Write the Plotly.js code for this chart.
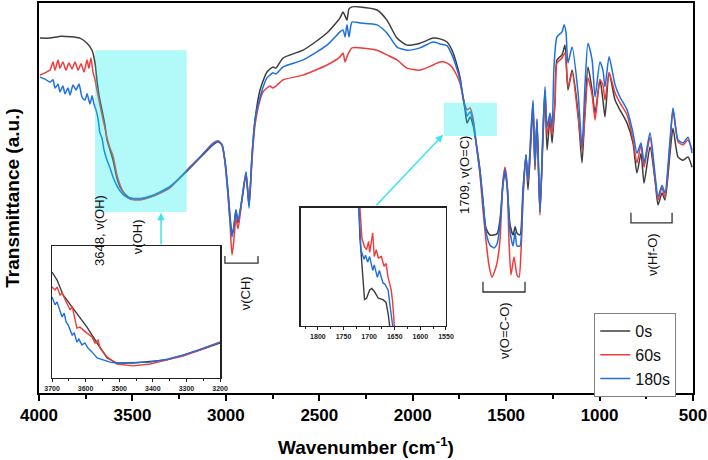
<!DOCTYPE html>
<html><head><meta charset="utf-8">
<script src="https://cdn.plot.ly/plotly-3.0.1.min.js"></script>
<style>html,body{margin:0;padding:0;background:#fff}#chart{width:708px;height:460px}</style>
</head><body><div id="chart"></div>
<script>
// ---- main spectra (wavenumber cm-1, transmittance a.u.) ----
const wn0 = [3995,3941,3880,3781,3743,3716,3700,3690,3679,3663,
3647,3636,3620,3604,3583,3566,3540,3513,3459,3390,
3299,3208,3138,3069,3042,3021,3005,2989,2978,2967,
2957,2946,2935,2914,2892,2876,2860,2844,2817,2780,
2748,2732,2694,2587,2459,2389,2373,2362,2352,2341,
2325,2282,2191,2138,2084,2031,1961,1891,1854,1816,
1790,1768,1747,1731,1720,1709,1693,1677,1656,1640,
1624,1608,1586,1549,1533,1517,1506,1495,1479,1463,
1452,1442,1426,1410,1394,1383,1367,1356,1346,1335,
1319,1303,1292,1281,1265,1254,1238,1228,1201,1185,
1169,1147,1115,1094,1078,1062,1040,1024,998,982,
971,949,917,891,853,821,800,778,762,730,
703,687,666,650,623,607,580,553,527,505];
const t0 = [91.0,91.0,91.5,91.0,89.7,87.9,84.6,80.3,76.4,72.6,
68.7,64.9,62.3,59.7,55.1,52.8,51.0,50.0,49.7,50.5,
52.8,56.9,60.3,63.6,64.4,63.6,59.7,52.1,45.6,40.8,
42.3,46.9,43.6,49.5,55.9,48.2,61.0,70.0,77.7,82.3,
83.6,83.3,85.9,87.9,92.3,96.2,97.7,96.7,95.6,98.5,
99.0,99.0,98.2,95.6,91.0,89.2,89.7,91.0,90.8,90.0,
87.9,84.9,81.0,75.9,72.6,69.2,70.8,68.7,62.8,57.2,
49.5,42.3,40.5,40.8,44.4,53.3,56.7,53.3,43.1,40.5,
42.6,41.0,40.5,52.1,61.0,52.1,64.9,73.1,57.2,69.5,
46.4,64.9,77.2,62.3,70.5,64.1,75.1,85.4,86.7,89.2,
77.7,82.8,71.8,59.0,72.6,83.6,77.7,71.8,80.3,75.1,
70.8,82.1,75.1,72.6,69.2,64.1,56.4,61.5,53.8,63.1,
54.6,48.2,51.3,49.5,61.5,67.9,60.5,59.7,60.5,57.9];

const wn60 = [3995,3968,3941,3925,3914,3898,3888,3872,3856,3840,
3823,3807,3791,3775,3759,3743,3733,3722,3711,3700,
3690,3679,3663,3647,3636,3620,3604,3583,3566,3540,
3513,3459,3390,3299,3208,3138,3069,3042,3021,3005,
2989,2978,2967,2957,2946,2935,2914,2892,2876,2860,
2844,2817,2801,2780,2764,2748,2732,2694,2587,2459,
2389,2373,2362,2352,2341,2325,2191,2138,2084,2031,
1961,1891,1854,1816,1790,1768,1747,1731,1720,1709,
1693,1677,1656,1640,1624,1608,1592,1576,1560,1549,
1533,1517,1506,1495,1485,1474,1458,1442,1431,1420,
1410,1394,1383,1367,1356,1346,1335,1319,1303,1292,
1281,1265,1254,1238,1228,1201,1185,1169,1147,1115,
1094,1078,1062,1040,1024,998,982,971,949,917,
891,853,821,800,778,762,730,703,687,666,
650,623,607,580,553,527,505];
const t60 = [81.5,82.1,82.8,84.9,82.8,85.4,83.3,84.9,82.8,84.6,
83.1,84.9,82.8,84.4,82.3,85.4,83.3,85.9,82.3,80.3,
77.7,75.1,71.3,67.9,65.4,62.8,60.8,55.9,53.3,50.8,
49.7,49.5,50.5,52.6,57.2,60.5,64.1,64.6,63.6,59.2,
50.8,43.8,35.4,39.2,44.9,42.1,49.5,56.4,48.2,59.7,
68.7,75.1,77.2,78.2,78.7,78.2,78.7,80.3,81.5,84.1,
86.2,87.2,84.9,86.2,87.4,88.5,87.9,86.7,85.4,83.3,
82.8,84.1,84.9,84.6,83.6,81.8,79.5,75.9,73.8,72.6,
73.1,70.5,62.3,55.9,46.9,39.2,32.8,29.7,31.5,33.3,
39.2,54.6,57.9,54.1,39.2,30.3,34.9,30.3,29.7,36.7,
49.5,61.0,54.1,66.2,74.4,57.9,70.0,45.6,66.7,77.7,
66.2,71.0,66.2,75.1,84.6,85.9,87.2,78.5,82.1,70.8,
62.3,71.3,80.8,76.4,70.0,80.3,79.0,75.1,82.1,76.9,
74.4,71.3,64.9,59.0,63.6,57.9,65.6,54.6,49.5,52.6,
50.3,63.6,72.6,64.4,63.6,64.9,62.3];

const wn180 = [3995,3968,3941,3925,3914,3898,3888,3872,3861,3845,
3834,3818,3802,3786,3770,3754,3743,3727,3716,3706,
3695,3684,3674,3663,3652,3636,3620,3604,3583,3566,
3540,3513,3459,3390,3299,3208,3138,3069,3042,3021,
3005,2989,2978,2967,2957,2946,2935,2914,2892,2876,
2860,2844,2817,2780,2764,2748,2732,2694,2587,2459,
2389,2373,2362,2352,2341,2325,2282,2191,2138,2084,
2031,1961,1891,1854,1816,1790,1768,1747,1731,1720,
1709,1693,1677,1656,1640,1624,1608,1586,1565,1549,
1533,1517,1506,1495,1479,1463,1452,1442,1426,1410,
1394,1383,1367,1356,1346,1335,1319,1303,1292,1281,
1265,1254,1244,1228,1201,1190,1180,1169,1147,1115,
1094,1078,1062,1040,1024,998,982,971,949,917,
891,853,821,800,778,762,730,703,687,666,
650,623,607,580,553,527,505];
const t180 = [81.0,80.5,79.7,80.3,78.2,79.2,77.2,78.7,76.7,78.2,
76.4,79.0,77.7,79.2,75.9,75.1,76.7,74.1,76.2,74.1,
72.6,70.3,66.7,65.4,62.3,59.7,57.7,55.4,53.1,51.8,
50.5,50.0,49.9,50.7,53.0,57.0,60.5,63.8,64.6,63.8,
59.5,51.5,44.5,40.0,43.0,46.9,44.1,49.8,56.7,47.4,
61.0,70.0,75.9,80.8,81.5,82.1,81.8,83.6,85.4,89.2,
92.6,93.1,91.3,94.4,91.3,95.1,94.9,94.4,92.3,88.7,
87.9,88.5,90.0,89.5,89.0,86.7,83.8,80.3,75.9,73.3,
71.0,72.1,69.5,62.3,56.7,49.0,41.3,37.9,37.2,38.2,
43.1,53.8,57.2,53.3,41.3,37.7,41.3,37.7,37.7,50.8,
61.0,54.6,67.4,75.1,58.7,70.3,46.2,67.4,78.5,68.2,
71.8,68.2,83.6,91.3,92.6,94.4,92.6,84.6,88.7,76.9,
63.1,79.0,89.7,85.4,75.9,84.9,82.8,78.5,86.2,79.0,
75.9,72.6,66.7,61.5,64.1,59.0,66.7,55.9,50.3,53.3,
51.3,64.9,73.1,64.9,64.1,65.6,61.5];

// ---- inset 1: OH region ----
const in1wn0 = [3700,3685,3667,3646,3626,3596,3566,3536,3507,3459,3408,3358,3310,3260,3200];
const in1t0 = [79.7,77.2,72.5,69.4,66.8,62.4,57.4,52.7,51.1,51.1,51.6,52.1,53.6,55.2,57.4];
const in1wn60 = [3700,3691,3685,3676,3670,3661,3652,3646,3640,3632,3626,3617,3608,3596,3581,3572,3563,3557,3536,3507,3459,3408,3358,3310,3260,3200];
const in1t60 = [75.0,74.1,75.0,72.5,73.1,70.9,68.7,67.8,69.0,65.3,62.1,62.4,61.5,60.5,59.3,57.4,58.3,55.8,53.0,50.8,50.2,50.8,52.1,53.3,55.2,57.7];
const in1wn180 = [3700,3691,3685,3676,3670,3664,3658,3652,3646,3640,3634,3626,3620,3611,3602,3593,3581,3566,3548,3527,3507,3459,3408,3358,3310,3260,3200];
const in1t180 = [71.9,69.4,70.3,67.8,65.6,66.8,64.0,63.1,61.5,59.9,60.5,57.7,58.6,56.8,57.4,55.8,54.6,52.7,52.1,51.4,51.1,51.3,51.4,52.3,53.6,55.4,57.7];

// ---- inset 2: C=O region ----
const in2wn0 = [1740,1720,1718,1714,1710,1709,1705,1699,1695,1690,1682,1673,1667,1663,1659,1650];
const in2t0 = [80,74.4,72.3,69.9,68.3,67.8,67.9,68.5,68.6,68.4,67.9,67.8,67.6,66.8,66.0,63];
const in2wn60 = [1740,1718,1714,1709,1705,1701,1699,1693,1690,1686,1682,1676,1671,1667,1663,1657,1654,1652,1640];
const in2t60 = [80,74.4,72.2,71.6,71.4,72.0,71.2,72.6,70.9,71.4,70.8,70.9,70.2,70.4,69.4,68.5,67.6,65.9,60];
const in2wn180 = [1740,1720,1716,1710,1707,1703,1699,1693,1690,1684,1680,1673,1669,1663,1659,1654,1645];
const in2t180 = [80,74.4,71.4,70.7,71.0,70.5,70.9,69.9,70.3,69.4,69.9,69.0,68.9,68.5,67.3,65.9,60];

const seriesNames = ['0s','60s','180s'];
const seriesColors = ['#3d3d3d','#ee3b3b','#1f6fe0'];
const xTickVals = [4000,3500,3000,2500,2000,1500,1000,500];
const in1Ticks = [3700,3600,3500,3400,3300,3200];
const in2Ticks = [1800,1750,1700,1650,1600,1550];

const FONT = 'Arial, "Liberation Sans", sans-serif';
const mains = [[wn0,t0],[wn60,t60],[wn180,t180]];
const ins1 = [[in1wn0,in1t0],[in1wn60,in1t60],[in1wn180,in1t180]];
const ins2 = [[in2wn0,in2t0],[in2wn60,in2t60],[in2wn180,in2t180]];
const traces = [];
mains.forEach((d,i)=>traces.push({x:d[0],y:d[1],type:'scatter',mode:'lines',name:seriesNames[i],
  line:{color:seriesColors[i],width:1.5,shape:'spline',smoothing:0.6},xaxis:'x',yaxis:'y'}));
ins1.forEach((d,i)=>traces.push({x:d[0],y:d[1],type:'scatter',mode:'lines',showlegend:false,
  line:{color:seriesColors[i],width:1.4},xaxis:'x2',yaxis:'y2'}));
ins2.forEach((d,i)=>traces.push({x:d[0],y:d[1],type:'scatter',mode:'lines',showlegend:false,
  line:{color:seriesColors[i],width:1.4},xaxis:'x3',yaxis:'y3'}));

const in1X=[3700,3200], in1Y=[46.4,87.9];
const in2X=[1833,1550], in2Y=[65.9,74.4];

const inAxisX = (dom,rng,ticks)=>({domain:dom,range:rng,tickvals:ticks,ticks:'outside',ticklen:3,tickwidth:1,
  tickcolor:'#222',showline:true,linecolor:'#222',linewidth:1.5,mirror:true,showgrid:false,zeroline:false,
  tickfont:{family:FONT,size:7,color:'#222',weight:'bold'},
  minor:{dtick:(ticks[0]-ticks[1])/2,ticks:'outside',ticklen:2,tickcolor:'#222'}});
const inAxisY = (dom,rng,anchor)=>({domain:dom,range:rng,anchor:anchor,showticklabels:false,ticks:'',
  showline:true,linecolor:'#222',linewidth:1.5,mirror:true,showgrid:false,zeroline:false});

const bracket = (x0,x1,y0,y1)=>({type:'path',xref:'x',yref:'y',
  path:`M${x0},${y1} L${x0},${y0} L${x1},${y0} L${x1},${y1}`,line:{color:'#333',width:1.3}});
const rotTxt = (x,y,t)=>({x:x,y:y,xref:'x',yref:'y',text:t,showarrow:false,textangle:-90,
  font:{family:FONT,size:13,color:'#111'}});

const layout = {
  width:708,height:460,margin:{l:39,r:15,t:3,b:67},
  paper_bgcolor:'#fff',plot_bgcolor:'#fff',
  font:{family:FONT,color:'#000'},
  xaxis:{range:[4000,500],tickvals:xTickVals,ticks:'outside',ticklen:6,tickwidth:2,tickcolor:'#000',
    showline:true,linecolor:'#000',linewidth:2,mirror:true,showgrid:false,zeroline:false,
    tickfont:{family:FONT,size:17,color:'#000',weight:'bold'},
    minor:{dtick:250,tick0:500,ticks:'outside',ticklen:4,tickwidth:2,tickcolor:'#000'},
    title:{text:'Wavenumber (cm<sup>-1</sup>)',font:{family:FONT,size:19,color:'#000',weight:'bold'},standoff:16}},
  yaxis:{range:[0,100],showticklabels:false,ticks:'',showline:true,linecolor:'#000',linewidth:2,mirror:true,
    showgrid:false,zeroline:false,
    title:{text:'Transmittance (a.u.)',font:{family:FONT,size:19,color:'#000',weight:'bold'},standoff:12}},
  xaxis2:Object.assign(inAxisX([0.0199,0.2768],in1X,in1Ticks),{anchor:'y2'}),
  yaxis2:inAxisY([0.0385,0.3769],in1Y,'x2'),
  xaxis3:Object.assign(inAxisX([0.4006,0.6223],in2X,in2Ticks),{anchor:'y3'}),
  yaxis3:inAxisY([0.1718,0.4744],in2Y,'x3'),
  showlegend:true,
  legend:{x:0.849,y:0.205,xanchor:'left',yanchor:'top',bordercolor:'#808080',borderwidth:1,bgcolor:'#fff',
    font:{family:FONT,size:16,color:'#111'},tracegroupgap:0},
  shapes:[
    {type:'rect',xref:'x',yref:'y',x0:in1X[0],x1:3210,y0:in1Y[0],y1:in1Y[1],layer:'above',
      fillcolor:'rgba(0,235,235,0.3)',line:{width:0}},
    {type:'rect',xref:'x',yref:'y',x0:in2X[0],x1:in2X[1],y0:in2Y[0],y1:in2Y[1],layer:'above',
      fillcolor:'rgba(0,235,235,0.3)',line:{width:0}},
    bracket(3005,2828,33.3,35.1),
    bracket(1624,1399,25.9,28.5),
    bracket(832,612,43.6,46.2)
  ],
  annotations:[
    rotTxt(3674,41.8,'3648, ν(OH)'),
    rotTxt(3476,40.2,'ν(OH)'),
    rotTxt(2897,25.6,'ν(CH)'),
    rotTxt(1720,55.9,'1709, ν(O=C)'),
    rotTxt(1506,15.9,'ν(O=C-O)'),
    rotTxt(714,35.4,'ν(Hf-O)'),
    {x:3347,y:46.2,xref:'x',yref:'y',ax:0,ay:33,text:'',showarrow:true,arrowhead:2,arrowsize:1,
      arrowwidth:1.5,arrowcolor:'#3fe3ea',standoff:0},
    {x:1838,y:66.2,xref:'x',yref:'y',ax:-68,ay:72,text:'',showarrow:true,arrowhead:2,arrowsize:1,
      arrowwidth:1.5,arrowcolor:'#3fe3ea',standoff:0}
  ]
};
Plotly.newPlot('chart',traces,layout,{staticPlot:true,displayModeBar:false});
</script></body></html>
